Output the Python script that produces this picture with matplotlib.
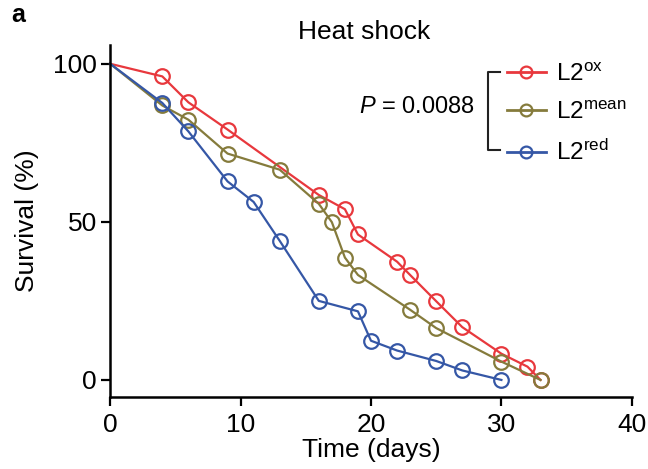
import matplotlib.pyplot as plt
from matplotlib.lines import Line2D

plt.rcParams['font.family'] = ['Liberation Sans', 'DejaVu Sans']
plt.rcParams['mathtext.fontset'] = 'custom'
plt.rcParams['mathtext.rm'] = 'Liberation Sans'
plt.rcParams['mathtext.it'] = 'Liberation Sans:italic'

# survival curves
days_ox = [0, 4, 6, 9, 16, 18, 19, 22, 23, 25, 27, 30, 32, 33]
surv_ox = [100, 96, 87.8, 79.2, 58.5, 54, 46, 37.4, 33.2, 24.9, 16.7, 8.3, 4.2, 0]
days_mean = [0, 4, 6, 9, 13, 16, 17, 18, 19, 23, 25, 30, 33]
surv_mean = [100, 86.8, 82.3, 71.6, 66.5, 55.7, 49.9, 38.7, 33.2, 22.2, 16.4, 5.8, 0]
days_red = [0, 4, 6, 9, 11, 13, 16, 19, 20, 22, 25, 27, 30]
surv_red = [100, 87.6, 78.6, 62.8, 56.3, 44, 25, 21.7, 12.4, 9.3, 6, 3, 0]

labels = ['L2$^{\\mathrm{ox}}$', 'L2$^{\\mathrm{mean}}$', 'L2$^{\\mathrm{red}}$']
colors = ['#e8383d', '#857b3c', '#3557a6']

fig = plt.figure(figsize=(6.48, 4.69), dpi=100)
ax = fig.add_axes([0.170, 0.1535, 0.805, 0.751])

series = [(days_ox, surv_ox), (days_mean, surv_mean), (days_red, surv_red)]
for (d, s), c, lab in zip(series, colors, labels):
    # no marker on the starting point
    ax.plot(d, s, color=c, lw=1.6, marker='o', ms=10.5, mfc='none', mec=c,
            mew=1.6, label=lab, clip_on=False, markevery=list(range(1, len(d))))

ax.set_xlim(0, 40)
ax.set_ylim(-5.4, 106)
ax.set_xticks([0, 10, 20, 30, 40])
ax.set_yticks([0, 50, 100])
for side in ['top', 'right']:
    ax.spines[side].set_visible(False)
for side in ['left', 'bottom']:
    ax.spines[side].set_linewidth(1.8)
ax.tick_params(width=1.6, length=6.5, labelsize=19)
ax.tick_params(axis='x', pad=5)
ax.tick_params(axis='y', pad=3)
ax.set_xlabel('Time (days)', fontsize=19, labelpad=1)
ax.set_ylabel('Survival (%)', fontsize=19, labelpad=10)
ax.set_title('Heat shock', fontsize=19, pad=4, x=0.487)

leg_handles = [Line2D([], [], color=c, lw=2, marker='o', ms=8.5, mfc='none', mec=c, mew=1.6)
               for c in colors]
ax.legend(leg_handles, labels, loc='center left', bbox_to_anchor=(0.742, 0.803),
          frameon=False, fontsize=17.5, handlelength=1.6, handletextpad=0.4,
          labelspacing=0.66, borderaxespad=0)

# bracket and p-value
tr = ax.transAxes
ax.add_line(Line2D([0.747, 0.724, 0.724, 0.747], [0.923, 0.923, 0.702, 0.702],
                   color='#222222', lw=1.5, transform=tr, clip_on=False))
ax.text(0.700, 0.822, '$P$ = 0.0088', transform=tr, ha='right', va='center', fontsize=17)

fig.text(0.018, 0.968, 'a', fontsize=18, fontweight='bold', va='center')

fig.savefig('out.png', dpi=100)
